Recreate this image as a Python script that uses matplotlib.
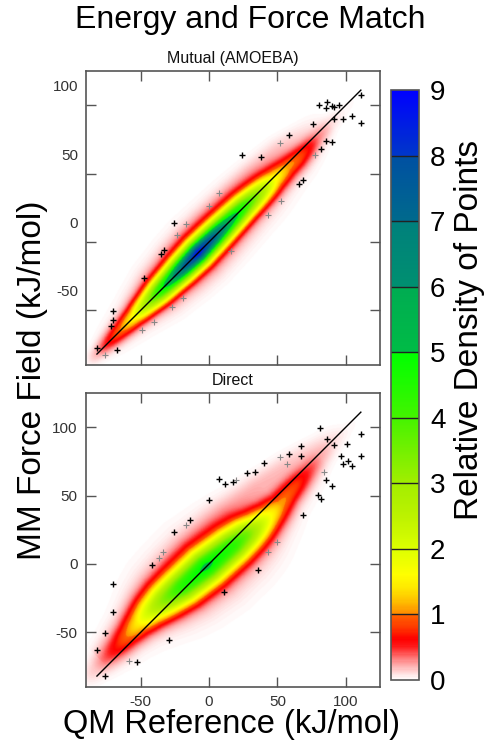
import numpy as np
import matplotlib
matplotlib.use("Agg")
import matplotlib.pyplot as plt
from matplotlib.colors import LinearSegmentedColormap
from matplotlib.transforms import ScaledTranslation

plt.rcParams['font.family'] = ['Liberation Sans', 'DejaVu Sans']

# ---------------- data ----------------
title = "Energy and Force Match"
panel_titles = ["Mutual (AMOEBA)", "Direct"]
xlabel = "QM Reference (kJ/mol)"
ylabel = "MM Force Field (kJ/mol)"
cbar_label = "Relative Density of Points"
tick_vals = [-50, 0, 50, 100]
tick_labels = ["-50", "0", "50", "100"]
cbar_ticks = [0, 1, 2, 3, 4, 5, 6, 7, 8, 9]
ref_line = [-82, 111]
axis_range = [-90, 125]

# density ridge profiles: s = (x+y)/2 along the diagonal, d = y - x across it
top_s = [-100, -88, -82, -76, -70, -64, -55, -46, -37, -28, -20, -8, 4, 15, 26, 36, 47, 56, 63, 70, 78, 88, 98, 112]
top_peak = [0, 0.05, 0.2, 0.45, 0.7, 0.95, 1.5, 2.6, 4.0, 5.2, 6.4, 7.8, 6.6, 5.2, 4.0, 2.8, 1.5, 1.0, 0.85, 0.6, 0.3, 0.1, 0.03, 0]
top_center = [0, 0, 0, 0, 0, 0, 0, 0, 0, 0, 0, 0, 0, 0, 0, -1, -2, -3, -4, -4, -3, -2, -2, -2]
top_width = [4.3, 4.7, 5.1, 5.5, 6, 6.4, 6.8, 7.2, 7.7, 7.8, 8, 8.1, 8.1, 8.1, 8.1, 8.1, 8.1, 7.7, 7.2, 6.8, 6.4, 5.5, 4.7, 4.3]
top_halo_s = [-60, -40, -20, 0, 20, 40, 60, 75, 90]
top_halo_peak = [0, 0.08, 0.14, 0.16, 0.16, 0.16, 0.13, 0.06, 0]
top_halo_center = [10, 13, 16, 18, 19, 19, 17, 13, 10]
top_halo_width = [7, 8, 8, 8, 8, 8, 8, 7, 7]

bot_s = [-100, -88, -80, -72, -64, -56, -48, -40, -30, -19, -2, 16, 25, 32, 40, 48, 55, 62, 70, 80, 90, 100, 112]
bot_peak = [0, 0.05, 0.15, 0.35, 0.6, 0.9, 1.3, 2.0, 3.0, 4.0, 4.7, 4.0, 3.2, 2.3, 1.5, 1.0, 0.85, 0.7, 0.45, 0.2, 0.08, 0.03, 0]
bot_center = [6, 6, 6, 6, 6, 7, 8, 8, 6, 3, 0, -4, -6, -8, -9, -9, -7, -6, -5, -3, -2, -2, -2]
bot_width = [6.8, 7.2, 7.7, 8.1, 8.5, 8.9, 9.8, 10.6, 11.5, 11.9, 12.3, 11.9, 11.5, 11, 10.2, 9.4, 8.5, 8.1, 7.7, 7.2, 6.4, 5.5, 5.1]
bot_halo_s = [-75, -55, -35, -15, 5, 25, 45, 65, 85, 100]
bot_halo_peak = [0.04, 0.08, 0.11, 0.13, 0.15, 0.17, 0.17, 0.13, 0.06, 0]
bot_halo_center = [14, 18, 24, 28, 28, 26, 22, 16, 8, 5]
bot_halo_width = [8, 9, 10, 10, 10, 10, 9, 8, 7, 7]

# faint wide tail around each ridge: fraction of the peak and width factor
tail_fraction = [0.1, 0.1]
tail_width_factor = [2.0, 2.0]

# outlier points (+ markers)
top_pts_x = [-82, -67.1, -70, -70.5, -71.7, -47.3, -35.1, -33.2, -25.4, 23.8, 38, 66, 69, 58.7, 76.3,
             81.9, 85.5, 89.7, 80.6, 85.5, 86.3, 89.7, 91.6, 95.3, 91.6, 97.7, 104.3, 111.1, 111.1]
top_pts_y = [-77.8, -78.8, -50.5, -57.3, -61.5, -26.4, -8.6, -5.7, 14.1, 63.6, 62.1, 42.1, 45.5, 78.2, 86.5,
             67.7, 73.8, 73.3, 99.9, 98.2, 102.3, 99.2, 98.9, 100.1, 89.7, 89.7, 92.1, 107.2, 87.2]
top_faint_x = [-75.9, -16.9, -23.7, -40, -49, -27, -18.8, 16, 42.9, 52.6, 52.1, 0.2, 7, 77.7]
top_faint_y = [-82.7, 12.9, 4.8, -58.3, -64.7, -47.6, -40.8, -6.6, 19.4, 29.9, 72.6, 26.3, 36, 63.6]

bot_pts_x = [-82, -75.9, -70, -70, -75.9, -52.9, -29.5, -42, -25.4, -13.7, 0.2, 7, 11.9, 17.3, 27.5, 33.6,
             40.4, 58.7, 67.2, 67.2, 81.4, 86, 91.6, 100.9, 111.4, 111.4, 96.5, 98.2, 101.4, 104.3, 85.5,
             89.7, 79.9, 82.1, 68.9, 35.5, 11.2]
bot_pts_y = [-62.7, -50.5, -35.2, -14.9, -82.2, -72, -55.4, -1, 23.1, 32.4, 46.5, 62.1, 58.4, 59.7, 66.2, 67.5,
             73.8, 80.4, 86, 79.2, 99.4, 91.6, 87.2, 87.7, 95, 79.2, 78.7, 73.3, 75.5, 71.9, 61.1,
             56.7, 50.6, 47.5, 35.8, -4.2, -20.5]
bot_faint_x = [-58.8, -33.9, -36.4, -16.9, 19.7, 51.9, 57.2, 83.8, 49.4, 42.9]
bot_faint_y = [-71.2, 8.5, 4.6, 28.7, 61.1, 78.2, 73.3, 67.5, 15.8, 8.5]

# colormap nodes (value, colour)
cmap_vals = [0.0, 0.04, 0.12, 0.22, 0.32, 0.42, 0.52, 0.62, 0.8, 1.0, 1.001, 1.2, 1.4, 1.6, 2.0, 2.5, 3.0, 3.5,
             4.0, 4.5, 4.99, 5.0, 5.99, 6.0, 6.99, 7.0, 7.99, 8.0, 9.0]
cmap_cols = ["#ffffff", "#fff2f2", "#ffd2d2", "#ffaaaa", "#ff7c7c", "#ff4444", "#ff1414", "#ff0000",
             "#ff3a00", "#ff6400", "#ff8a00", "#ffc000", "#ffe800", "#ffff00", "#dcff00", "#bcf200",
             "#a2ee00", "#74f000", "#44f400", "#20fa00", "#00ff00", "#00bc46", "#00ac52", "#009070",
             "#00807c", "#006a8c", "#0050a2", "#0038c8", "#0000ff"]

# ---------------- figure ----------------
W, H = 485, 744
fig = plt.figure(figsize=(W / 100, H / 100), dpi=100)

nodes = [(v / 9.0, c) for v, c in zip(cmap_vals, cmap_cols)]
cmap = LinearSegmentedColormap.from_list("dens", nodes, N=512)

axes_boxes = [[86 / W, 1 - 365 / H, 294 / W, 294 / H],
              [86 / W, 1 - 687 / H, 294 / W, 294 / H]]

profiles = [
    (top_s, top_peak, top_center, top_width, top_halo_s, top_halo_peak, top_halo_center, top_halo_width),
    (bot_s, bot_peak, bot_center, bot_width, bot_halo_s, bot_halo_peak, bot_halo_center, bot_halo_width),
]
points = [(top_pts_x, top_pts_y, top_faint_x, top_faint_y),
          (bot_pts_x, bot_pts_y, bot_faint_x, bot_faint_y)]

gx = np.linspace(axis_range[0], axis_range[1], 500)
X, Y = np.meshgrid(gx, gx)
S = (X + Y) / 2.0
D = Y - X

spine_col = "#555555"
label_col = "#333333"
im = None
for i, box in enumerate(axes_boxes):
    ax = fig.add_axes(box)
    s, pk, ce, wd, hs, hp, hc, hw = profiles[i]
    P = np.interp(S, s, pk)
    M = np.interp(S, s, ce)
    SG = np.interp(S, s, wd)
    HP = np.interp(S, hs, hp, left=0, right=0)
    HM = np.interp(S, hs, hc)
    HW = np.interp(S, hs, hw)
    TW = SG * tail_width_factor[i]
    dens = (P * np.exp(-0.5 * ((D - M) / SG) ** 2)
            + tail_fraction[i] * P * np.exp(-0.5 * ((D - M) / TW) ** 2)
            + HP * np.exp(-0.5 * ((D - HM) / HW) ** 2))
    im = ax.imshow(dens, origin="lower", extent=[axis_range[0], axis_range[1], axis_range[0], axis_range[1]],
                   cmap=cmap, vmin=0, vmax=9, interpolation="bilinear", aspect="auto", zorder=1)
    ax.plot(ref_line, ref_line, color="black", lw=1.0, zorder=3)
    px, py, fx, fy = points[i]
    ax.plot(fx, fy, linestyle="none", marker="+", ms=4, mew=0.8, color="#888888", zorder=2)
    ax.plot(px, py, linestyle="none", marker="+", ms=5, mew=1.0, color="black", zorder=4)
    ax.set_xlim(axis_range)
    ax.set_ylim(axis_range)
    ax.set_xticks(tick_vals)
    ax.set_yticks(tick_vals)
    ax.tick_params(direction="in", length=7.2, width=1.0, color=spine_col, top=True, right=True,
                   labelsize=11, labelcolor=label_col, pad=6)
    for sp in ax.spines.values():
        sp.set_color(spine_col)
        sp.set_linewidth(1.2)
    if i == 0:
        ax.set_xticklabels([])
        ax.set_yticklabels([])
        off = ScaledTranslation(-8 / 100, 18 / 100, fig.dpi_scale_trans)
        for v, lab in zip(tick_vals, tick_labels):
            ax.text(0, v, lab, transform=ax.get_yaxis_transform() + off, ha="right", va="center",
                    fontsize=11, color=label_col)
    else:
        ax.set_xticklabels(tick_labels)
        ax.set_yticklabels(tick_labels)
    ax.set_title(panel_titles[i], fontsize=11.5, pad=6, color="#111111")

# colorbar
cax = fig.add_axes([391 / W, 1 - 680 / H, 28 / W, 590 / H])
cb = fig.colorbar(im, cax=cax, ticks=cbar_ticks)
cb.ax.tick_params(length=0, labelsize=20, pad=8)
cb.ax.set_yticklabels([str(t) for t in cbar_ticks])
for t in cbar_ticks[1:-1]:
    cb.ax.axhline(t, color="#222222", lw=1.0)
cb.outline.set_edgecolor(spine_col)
cb.outline.set_linewidth(1.2)

fig.text(250 / W, 1 - 20 / H, title, ha="center", va="center", fontsize=23)
fig.text(33 / W, 1 - 380 / H, ylabel, ha="center", va="center", rotation=90, fontsize=24)
fig.text(232 / W, 1 - 725 / H, xlabel, ha="center", va="center", fontsize=23.5)
fig.text(470 / W, 1 - 330 / H, cbar_label, ha="center", va="center", rotation=90, fontsize=24)

fig.savefig("out.png", dpi=100)
